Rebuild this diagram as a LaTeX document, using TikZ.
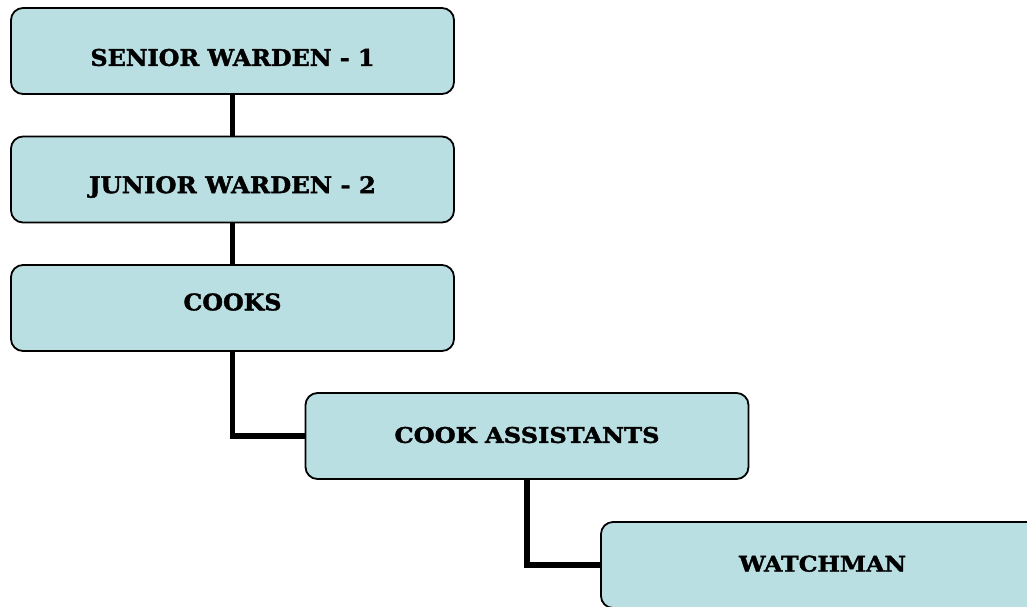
\documentclass[tikz,border=0pt]{standalone}
\usepackage{fontspec}
\setmainfont{DejaVu Serif}[BoldFeatures={FakeBold=1.6}]
\usepackage{graphicx}
\usetikzlibrary{backgrounds}
\definecolor{boxfill}{RGB}{186,223,227}
\newcommand\fitlbl[3]{\resizebox{#1pt}{#2pt}{\bfseries #3}}
\tikzset{
  orgbox/.style={draw=black, line width=1.8pt, fill=boxfill, rounded corners=12pt,
    minimum width=443pt, minimum height=86pt, inner sep=0pt, shape=rectangle},
  orglbl/.style={inner sep=0pt, outer sep=0pt},
  link/.style={line width=5.5pt, draw=black}
}
\begin{document}
\begin{tikzpicture}[x=1pt,y=-1pt]
\useasboundingbox (0,0) rectangle (1027,606);
\node[orgbox] (sw) at (232.5,51) {};
\node[orgbox] (jw) at (232.5,179.5) {};
\node[orgbox] (ck) at (232.5,308) {};
\node[orgbox] (ca) at (527,436) {};
\node[orgbox] (wm) at (822.5,565) {};
\node[orglbl] (swt) at ([yshift=-6.5pt]sw.center) {\fitlbl{284}{17}{SENIOR WARDEN - 1}};
\node[orglbl] (jwt) at ([yshift=-7.5pt]jw.center) {\fitlbl{287}{17}{JUNIOR WARDEN - 2}};
\node[orglbl] (ckt) at ([yshift=6pt]ck.center) {\fitlbl{98}{17}{COOKS}};
\node[orglbl] (cat) at ([yshift=1pt]ca.center) {\fitlbl{265}{16}{COOK ASSISTANTS}};
\node[orglbl] (wmt) at ([yshift=1.3pt]wm.center) {\fitlbl{167}{16}{WATCHMAN}};
\begin{scope}[on background layer]
\draw[link] (sw.south) -- (jw.north);
\draw[link] (jw.south) -- (ck.north);
\draw[link] (ck.south) |- (ca.west);
\draw[link] (ca.south) |- (wm.west);
\end{scope}
\end{tikzpicture}
\end{document}
